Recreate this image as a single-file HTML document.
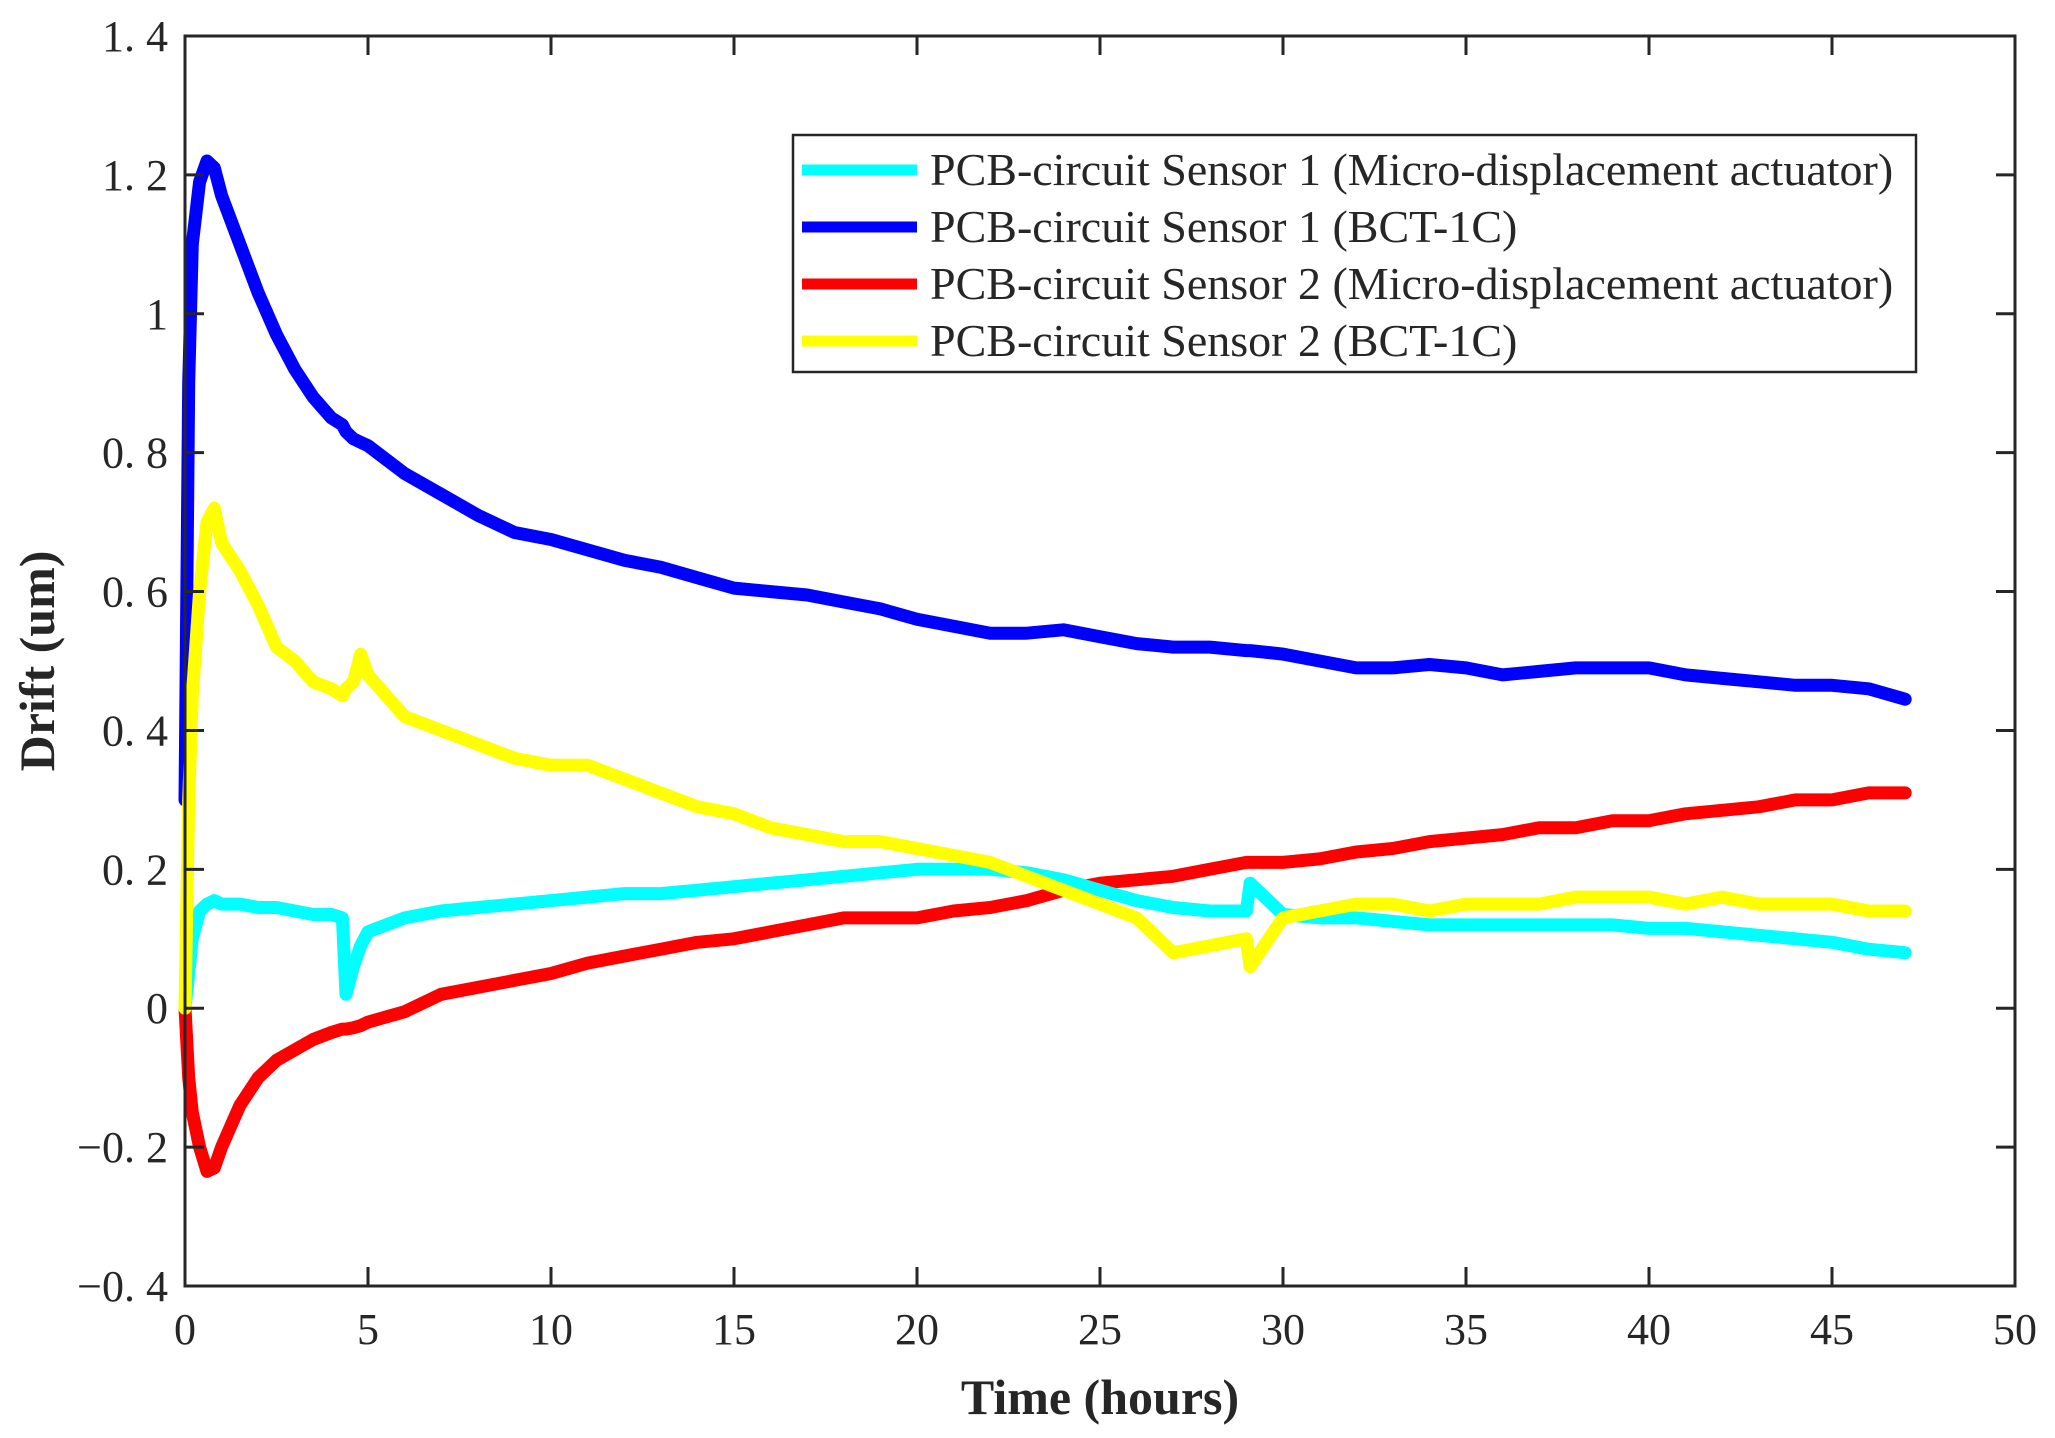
<!DOCTYPE html>
<html><head><meta charset="utf-8"><style>
body{margin:0;background:#fff}
svg text{font-family:"Liberation Serif",serif;fill:#262626}
</style></head><body>
<svg id="chart" width="2055" height="1433" viewBox="0 0 2055 1433" xmlns="http://www.w3.org/2000/svg">
<rect width="2055" height="1433" fill="#fff"/>
<g id="series"></g>
<g id="axes"></g>
<g id="legend"></g>
</svg>
<script>
const times=[0,0.1,0.2,0.4,0.6,0.8,1,1.5,2,2.5,3,3.5,4,4.3,4.4,4.6,4.8,5,6,7,8,9,10,11,12,13,14,15,16,17,18,19,20,21,22,23,24,25,26,27,28,29,29.1,30,31,32,33,34,35,36,37,38,39,40,41,42,43,44,45,46,47];
const cyanVals=[0,0.05,0.1,0.14,0.15,0.155,0.15,0.15,0.145,0.145,0.14,0.135,0.135,0.13,0.02,0.06,0.09,0.11,0.13,0.14,0.145,0.15,0.155,0.16,0.165,0.165,0.17,0.175,0.18,0.185,0.19,0.195,0.2,0.2,0.2,0.195,0.185,0.17,0.155,0.145,0.14,0.14,0.18,0.135,0.13,0.13,0.125,0.12,0.12,0.12,0.12,0.12,0.12,0.115,0.115,0.11,0.105,0.1,0.095,0.085,0.08];
const blueVals=[0.3,0.9,1.1,1.19,1.22,1.21,1.17,1.1,1.03,0.97,0.92,0.88,0.85,0.84,0.83,0.82,0.815,0.81,0.77,0.74,0.71,0.685,0.675,0.66,0.645,0.635,0.62,0.605,0.6,0.595,0.585,0.575,0.56,0.55,0.54,0.54,0.545,0.535,0.525,0.52,0.52,0.515,0.515,0.51,0.5,0.49,0.49,0.495,0.49,0.48,0.485,0.49,0.49,0.49,0.48,0.475,0.47,0.465,0.465,0.46,0.445];
const redVals=[0,-0.1,-0.15,-0.2,-0.235,-0.23,-0.2,-0.14,-0.1,-0.075,-0.06,-0.045,-0.035,-0.03,-0.03,-0.028,-0.025,-0.02,-0.005,0.02,0.03,0.04,0.05,0.065,0.075,0.085,0.095,0.1,0.11,0.12,0.13,0.13,0.13,0.14,0.145,0.155,0.17,0.18,0.185,0.19,0.2,0.21,0.21,0.21,0.215,0.225,0.23,0.24,0.245,0.25,0.26,0.26,0.27,0.27,0.28,0.285,0.29,0.3,0.3,0.31,0.31];
const yellowVals=[0,0.3,0.45,0.6,0.7,0.72,0.67,0.63,0.58,0.52,0.5,0.47,0.46,0.45,0.46,0.47,0.51,0.48,0.42,0.4,0.38,0.36,0.35,0.35,0.33,0.31,0.29,0.28,0.26,0.25,0.24,0.24,0.23,0.22,0.21,0.19,0.17,0.15,0.13,0.08,0.09,0.1,0.06,0.13,0.14,0.15,0.15,0.14,0.15,0.15,0.15,0.16,0.16,0.16,0.15,0.16,0.15,0.15,0.15,0.14,0.14];
const xTicks=[0,5,10,15,20,25,30,35,40,45,50];
const yTicks=[-0.4,-0.2,0,0.2,0.4,0.6,0.8,1,1.2,1.4];
const yTickLabels=["\u22120. 4","\u22120. 2","0","0. 2","0. 4","0. 6","0. 8","1","1. 2","1. 4"];
const legendLabels=["PCB-circuit Sensor 1 (Micro-displacement actuator)","PCB-circuit Sensor 1 (BCT-1C)","PCB-circuit Sensor 2 (Micro-displacement actuator)","PCB-circuit Sensor 2 (BCT-1C)"];
const L=185,R=2015,T=36,B=1286;
const xs=v=>L+(v-0)/(50-0)*(R-L);
const ys=v=>B-(v+0.4)/(1.8)*(B-T);
const NS="http://www.w3.org/2000/svg";
function mk(tag,attrs,parent){const e=document.createElementNS(NS,tag);for(const k in attrs)e.setAttribute(k,attrs[k]);parent.appendChild(e);return e;}
const sg=document.getElementById('series');
const series=[[cyanVals,'#00ffff','series-sensor1-actuator'],[blueVals,'#0000ff','series-sensor1-bct'],[redVals,'#ff0000','series-sensor2-actuator'],[yellowVals,'#ffff00','series-sensor2-bct']];
const order=[1,2,0,3];
order.forEach(i=>{const [vals,col,name]=series[i];
 const p=mk('polyline',{points:times.map((t,j)=>xs(t).toFixed(1)+','+ys(vals[j]).toFixed(1)).join(' '),fill:'none',stroke:col,'stroke-width':13,'stroke-linejoin':'round','stroke-linecap':'round'},sg);
 
 
});
const ax=document.getElementById('axes');
const box=mk('rect',{x:L,y:T,width:R-L,height:B-T,fill:'none',stroke:'#262626','stroke-width':3},ax);


xTicks.forEach(v=>{const x=xs(v);
 mk('line',{x1:x,y1:B,x2:x,y2:B-19,stroke:'#262626','stroke-width':3},ax);
 mk('line',{x1:x,y1:T,x2:x,y2:T+19,stroke:'#262626','stroke-width':3},ax);
 const t=mk('text',{x:x,y:B+58,'text-anchor':'middle','font-size':44},ax);t.textContent=v;
 
 
});
yTicks.forEach((v,i)=>{const y=ys(v);
 mk('line',{x1:L,y1:y,x2:L+19,y2:y,stroke:'#262626','stroke-width':3},ax);
 mk('line',{x1:R,y1:y,x2:R-19,y2:y,stroke:'#262626','stroke-width':3},ax);
 const t=mk('text',{x:L-17,y:y+15,'text-anchor':'end','font-size':44},ax);t.textContent=yTickLabels[i];
 
 
});
const xt=mk('text',{x:(L+R)/2,y:1414,'text-anchor':'middle','font-size':50,'font-weight':'bold'},ax);xt.textContent='Time (hours)';


const yt=mk('text',{x:0,y:0,'text-anchor':'middle','font-size':50,'font-weight':'bold',transform:'translate(54,'+((T+B)/2)+') rotate(-90)'},ax);yt.textContent='Drift (um)';


const lg=document.getElementById('legend');
const lb=mk('rect',{x:793,y:135,width:1123,height:237,fill:'#fff',stroke:'#262626','stroke-width':2.5},lg);


legendLabels.forEach((s,i)=>{const y=170+i*57;
 mk('line',{x1:802,y1:y,x2:917,y2:y,stroke:series[i][1],'stroke-width':11},lg);
 const t=mk('text',{x:930,y:y+15,'font-size':46},lg);t.textContent=s;
 
 
});
</script>
</body></html>
